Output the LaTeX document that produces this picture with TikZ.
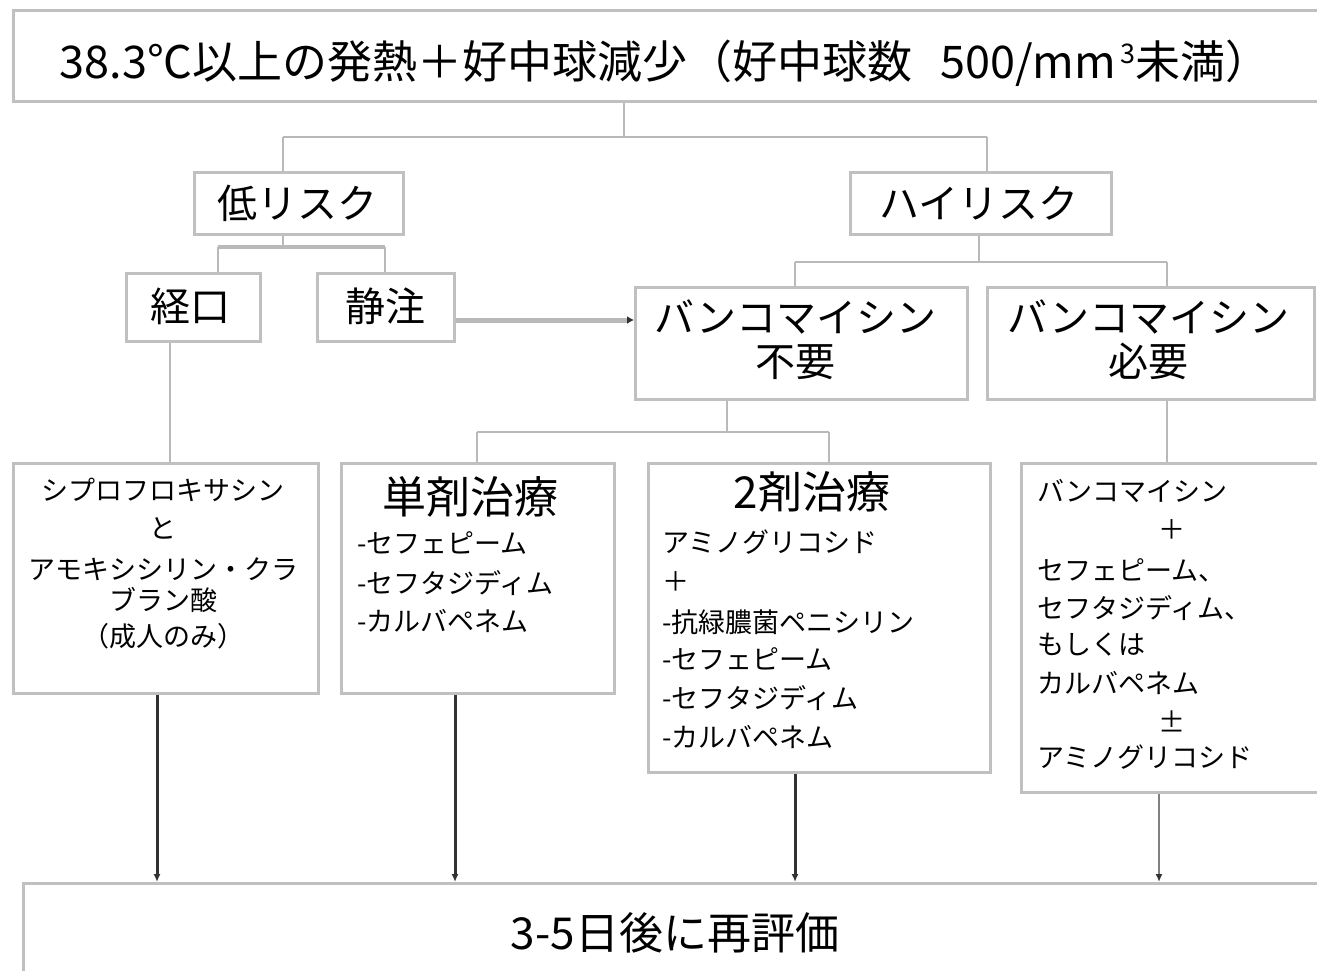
\documentclass[tikz,border=0pt]{standalone}
\usepackage{fontspec}
\setmainfont{Noto Sans CJK JP}
\usetikzlibrary{arrows.meta}
\definecolor{boxgray}{RGB}{192,192,192}
\definecolor{linegray}{RGB}{185,185,185}
\definecolor{darkline}{RGB}{50,50,50}
\begin{document}
\begin{tikzpicture}[x=1pt,y=-1pt,
 box/.style={draw=boxgray, line width=3pt, fill=white, inner sep=0pt, anchor=north west},
 conn/.style={draw=linegray, line width=2pt},
 dark/.style={draw=darkline, line width=3pt, -{Latex[length=8pt,width=7pt]}},
 big/.style={font=\fontsize{44}{48}\selectfont, inner sep=0pt},
 mid/.style={font=\fontsize{40}{44}\selectfont, inner sep=0pt},
 sm/.style={font=\fontsize{27}{30}\selectfont, inner sep=0pt},
 lsm/.style={sm, anchor=west},
]
\useasboundingbox (0,0) rectangle (1317,971);
\clip (0,0) rectangle (1317,971);
\fill[white] (0,0) rectangle (1317,971);

% boxes
\node[box, minimum width=1340pt, minimum height=91pt] (top) at (12,9) {};
\node[box, minimum width=209pt, minimum height=62pt] (low) at (193,171) {};
\node[box, minimum width=261pt, minimum height=62pt] (high) at (849,171) {};
\node[box, minimum width=134pt, minimum height=68pt] (oral) at (125,272) {};
\node[box, minimum width=137pt, minimum height=68pt] (iv) at (316,272) {};
\node[box, minimum width=332pt, minimum height=112pt] (vnot) at (634,286) {};
\node[box, minimum width=327pt, minimum height=112pt] (vneed) at (986,286) {};
\node[box, minimum width=305pt, minimum height=230pt] (cipro) at (12,462) {};
\node[box, minimum width=273pt, minimum height=230pt] (mono) at (340,462) {};
\node[box, minimum width=342pt, minimum height=309pt] (dual) at (647,462) {};
\node[box, minimum width=330pt, minimum height=329pt] (vanc) at (1020,462) {};
\node[box, minimum width=1330pt, minimum height=120pt] (final) at (22,882) {};

% texts
\node[inner sep=0pt, font=\fontsize{45}{48}\selectfont] (toptext) at (665,63) {38.3℃以上の発熱＋好中球減少（好中球数\hspace{28pt}500/mm\hspace{4pt}\raisebox{15pt}{\fontsize{27}{27}\selectfont 3}未満）};
\node[mid] (lowtext) at (297,203) {低リスク};
\node[mid] (hightext) at (979,203) {ハイリスク};
\node[mid] (oraltext) at (190,306) {経口};
\node[mid] (ivtext) at (385,306) {静注};
\node[mid, align=center, font=\fontsize{40}{44}\selectfont] (vnottext) at (795,340) {バンコマイシン\\不要};
\node[mid, align=center, font=\fontsize{40}{44}\selectfont] (vneedtext) at (1148,340) {バンコマイシン\\必要};

\node[sm] (c1) at (163,490) {シプロフロキサシン};
\node[sm] (c2) at (163,528) {と};
\node[sm] (c3) at (163,569) {アモキシシリン・クラ};
\node[sm] (c4) at (163,600) {ブラン酸};
\node[sm] (c5) at (163,636) {（成人のみ）};

\node[big] (m0) at (470,497) {単剤治療};
\node[lsm] (m1) at (357,543) {-セフェピーム};
\node[lsm] (m2) at (357,583) {-セフタジディム};
\node[lsm] (m3) at (357,621) {-カルバペネム};

\node[big] (d0) at (812,492) {2剤治療};
\node[lsm] (d1) at (662,542) {アミノグリコシド};
\node[lsm] (d2) at (662,582) {＋};
\node[lsm] (d3) at (662,622) {-抗緑膿菌ペニシリン};
\node[lsm] (d4) at (662,659) {-セフェピーム};
\node[lsm] (d5) at (662,698) {-セフタジディム};
\node[lsm] (d6) at (662,737) {-カルバペネム};

\node[lsm] (v1) at (1037,491) {バンコマイシン};
\node[sm] (v2) at (1172,530) {＋};
\node[lsm] (v3) at (1037,570) {セフェピーム、};
\node[lsm] (v4) at (1037,608) {セフタジディム、};
\node[lsm] (v5) at (1037,645) {もしくは};
\node[lsm] (v6) at (1037,683) {カルバペネム};
\node[sm] (v7) at (1172,722) {±};
\node[lsm] (v8) at (1037,757) {アミノグリコシド};

\node[big] (finaltext) at (675,933) {3-5日後に再評価};

% connectors
\coordinate (j1) at (624,137);
\coordinate (jl) at (283,137);
\coordinate (jr) at (987,137);
\draw[conn] (top.south -| j1) -- (j1);
\draw[conn] (jl) -- (jr);
\draw[conn] (jl) -- (low.north -| jl);
\draw[conn] (jr) -- (high.north -| jr);

\coordinate (j2) at (283,247);
\coordinate (j2l) at (218,247);
\coordinate (j2r) at (385,247);
\draw[conn] (low.south -| j2) -- (j2);
\draw[conn, line width=4pt] (j2l) -- (j2r);
\draw[conn] (j2l) -- (oral.north -| j2l);
\draw[conn] (j2r) -- (iv.north -| j2r);

\coordinate (ya) at (500,320);
\draw[draw=linegray, line width=5pt, -{Latex[length=7pt,width=8pt,color=darkline]}] (iv.east |- ya) -- (vnot.west |- ya);

\coordinate (j3) at (979,262);
\coordinate (j3l) at (795,262);
\coordinate (j3r) at (1167,262);
\draw[conn] (high.south -| j3) -- (j3);
\draw[conn] (j3l) -- (j3r);
\draw[conn] (j3l) -- (vnot.north -| j3l);
\draw[conn] (j3r) -- (vneed.north -| j3r);

\coordinate (x170) at (170,400);
\draw[conn] (oral.south -| x170) -- (cipro.north -| x170);

\coordinate (j4) at (727,432);
\coordinate (j4l) at (477,432);
\coordinate (j4r) at (829,432);
\draw[conn] (vnot.south -| j4) -- (j4);
\draw[conn] (j4l) -- (j4r);
\draw[conn] (j4l) -- (mono.north -| j4l);
\draw[conn] (j4r) -- (dual.north -| j4r);

\draw[conn] (vneed.south -| j3r) -- (vanc.north -| j3r);

\coordinate (a1) at (157,800);
\coordinate (a2) at (455,800);
\coordinate (a3) at (795,800);
\coordinate (a4) at (1159,800);
\draw[dark] (cipro.south -| a1) -- (final.north -| a1);
\draw[dark] (mono.south -| a2) -- (final.north -| a2);
\draw[dark] (dual.south -| a3) -- (final.north -| a3);
\draw[dark, draw=gray, line width=2.5pt, -{Latex[length=8pt,width=7pt,color=darkline]}] (vanc.south -| a4) -- (final.north -| a4);
\end{tikzpicture}
\end{document}
